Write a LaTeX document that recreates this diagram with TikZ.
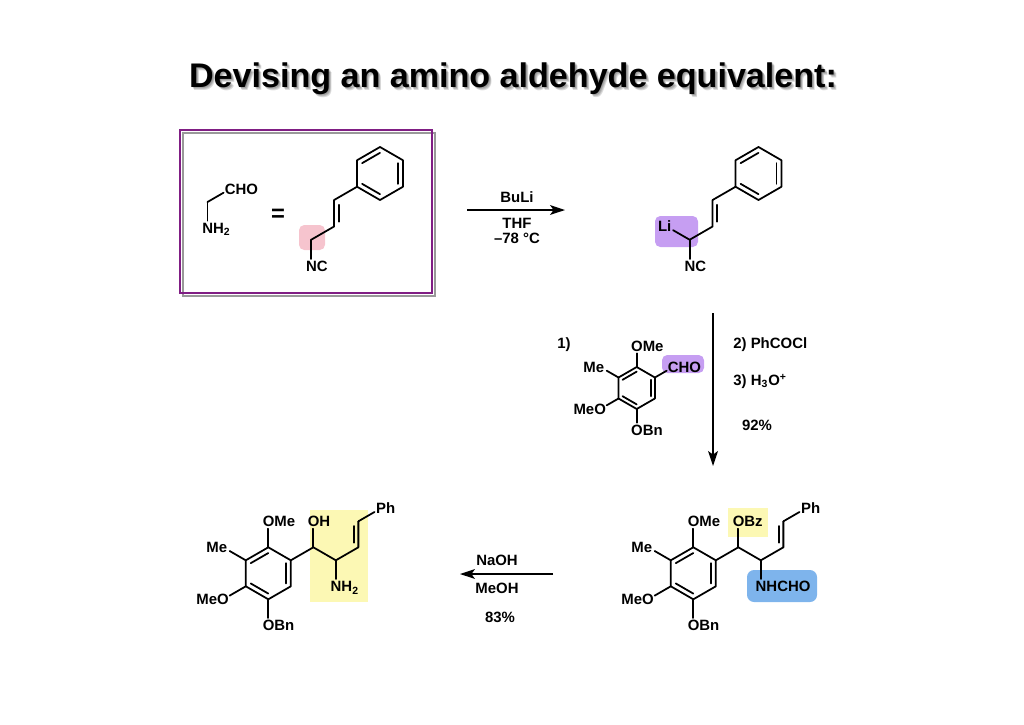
\documentclass[tikz,border=0pt]{standalone}
\usepackage{fontspec}
\setmainfont{Liberation Sans}
\usetikzlibrary{calc}
\usetikzlibrary{arrows.meta}
\usetikzlibrary{backgrounds}
\definecolor{framepurple}{RGB}{128,30,132}
\definecolor{hlpink}{RGB}{246,196,206}
\definecolor{hlpurple}{RGB}{198,158,242}
\definecolor{hlyellow}{RGB}{252,248,180}
\definecolor{hlblue}{RGB}{126,180,236}
\tikzset{
  bond/.style={line width=1pt, line cap=round, line join=round},
  lab/.style={inner sep=0pt, text height=6.1pt, text depth=0pt, font=\fontsize{8.5}{10}\selectfont\bfseries},
  title/.style={inner sep=0pt, anchor=base, font=\fontsize{19.4}{23}\selectfont\bfseries},
  rxn/.style={line width=0.85pt, -{Stealth[length=8.5pt, width=5.6pt, inset=2pt]}},
  tolab/.style={shorten >=4.2pt},
}
% hexagon: name, centre, bond length (pointy top, Kekule)
\newcommand{\benz}[3]{%
  \foreach \i/\a in {1/-90, 2/-30, 3/30, 4/90, 5/150, 6/210}
    \coordinate (#1\i) at ($(#2)+(\a:#3)$);
  \draw[bond] (#11) -- (#12) -- (#13) -- (#14) -- (#15) -- (#16) -- cycle;
  \foreach \p/\q in {6/1, 2/3, 4/5}
    \draw[bond] ($(#2)!.78!(#1\p)$) -- ($(#2)!.78!(#1\q)$);
}
% second line of a double bond, left of #1 -> #2
\newcommand{\dbl}[2]{%
  \draw[bond] ($($(#1)!.18!(#2)$)!2.6pt!90:(#2)$) -- ($($(#1)!.82!(#2)$)!2.6pt!-90:(#1)$);
}

\begin{document}
\begin{tikzpicture}[x=0.02cm, y=-0.02cm]
\useasboundingbox (0,0) rectangle (1024,724);

% title with soft shadow
\foreach \d in {1,...,4}
  \node[title, opacity=.14] (ts\d) at (513+0.7*\d, 87+0.9*\d) {Devising an amino aldehyde equivalent:};
\node[title] (title) at (513,87) {Devising an amino aldehyde equivalent:};

% framed equivalence
\draw[black!40, line width=1.4pt] (183,133) rectangle (435,296);
\draw[framepurple, line width=1.5pt] (180,130) rectangle (432,293);

\coordinate (g1) at (230,189);
\coordinate (g2) at ($(g1)+(150:26)$);
\coordinate (g3) at ($(g2)+(90:26)$);
\node[lab, anchor=west] (cho1) at ($(g1)+(-5.5,0)$) {CHO};
\node[lab, anchor=west] (nh1) at ($(g3)+(-5.5,0)$) {NH\textsubscript{2}};
\draw[bond, tolab] (g2) -- (g1);
\draw[bond, tolab] (g2) -- (g3);
\node[inner sep=0pt, font=\fontsize{13.5}{15}\selectfont\bfseries] (eq) at (278,215) {=};

\benz{p}{380,173.5}{26.5}
\coordinate (c1) at ($(p5)+(150:26.5)$);
\coordinate (c2) at ($(c1)+(90:26.5)$);
\coordinate (c3) at ($(c2)+(150:26.5)$);
\coordinate (c4) at ($(c3)+(90:26.5)$);
\draw[bond] (p5) -- (c1) -- (c2) -- (c3);
\dbl{c1}{c2}
\draw[bond, tolab] (c3) -- (c4);
\node[lab, anchor=west] (nc1) at ($(c4)+(-5.5,0)$) {NC};

% step 1
\coordinate (a1) at (467,210);
\coordinate (a2) at (565,210);
\draw[rxn] (a1) -- (a2);
\node[lab] (buli) at (517,197) {BuLi};
\node[lab] (thf) at (517,223) {THF};
\node[lab] (temp) at (517,238) {–78 °C};

\benz{q}{758.5,173.5}{26.5}
\coordinate (d1) at ($(q5)+(150:26.5)$);
\coordinate (d2) at ($(d1)+(90:26.5)$);
\coordinate (d3) at ($(d2)+(150:26.5)$);
\coordinate (d4) at ($(d3)+(90:26.5)$);
\coordinate (d5) at ($(d3)+(210:26.5)$);
\draw[bond] (q5) -- (d1) -- (d2) -- (d3);
\dbl{d1}{d2}
\draw[bond, tolab] (d3) -- (d4);
\draw[bond, tolab] (d3) -- (d5);
\node[lab, anchor=west] (nc2) at ($(d4)+(-5.5,0)$) {NC};
\node[lab, anchor=east] (li) at ($(d5)+(5,0)$) {Li};

% step 2
\coordinate (v1) at (713,313);
\coordinate (v2) at (713,466);
\draw[rxn] (v1) -- (v2);
\node[lab] (s1) at (564,343) {1)};
\node[lab, anchor=west] (s2) at (733,343) {2) PhCOCl};
\node[lab, anchor=west] (s3) at (733,380) {3) H\textsubscript{3}O\textsuperscript{+}};
\node[lab] (yld1) at (757,425) {92\%};

\benz{r}{636.7,388}{21}
\coordinate (e1) at ($(r1)+(-90:21)$);
\coordinate (e2) at ($(r2)+(-30:21)$);
\coordinate (e3) at ($(r6)+(210:21)$);
\coordinate (e4) at ($(r5)+(150:21)$);
\coordinate (e5) at ($(r4)+(90:21)$);
\foreach \a/\b in {r1/e1, r2/e2, r6/e3, r5/e4, r4/e5}
  \draw[bond, tolab] (\a) -- (\b);
\node[lab, anchor=west] (ome1) at ($(e1)+(-5.9,0)$) {OMe};
\node[lab, anchor=west] (cho2) at ($(e2)+(-5.5,0)$) {CHO};
\node[lab, anchor=east] (me1) at ($(e3)+(4.2,0)$) {Me};
\node[lab, anchor=east] (meo1) at ($(e4)+(5.9,0)$) {MeO};
\node[lab, anchor=west] (obn1) at ($(e5)+(-5.9,0)$) {OBn};

% benzoate
\benz{s}{693.3,573.3}{26}
\coordinate (f1) at ($(s1)+(-90:26)$);
\coordinate (f2) at ($(s6)+(210:26)$);
\coordinate (f3) at ($(s5)+(150:26)$);
\coordinate (f4) at ($(s4)+(90:26)$);
\coordinate (f5) at ($(s2)+(-30:26)$);
\coordinate (f6) at ($(f5)+(-90:26)$);
\coordinate (f7) at ($(f5)+(30:26)$);
\coordinate (f8) at ($(f7)+(90:26)$);
\coordinate (f9) at ($(f7)+(-30:26)$);
\coordinate (f10) at ($(f9)+(-90:26)$);
\coordinate (f11) at ($(f10)+(-30:26)$);
\foreach \a/\b in {s1/f1, s6/f2, s5/f3, s4/f4, f5/f6, f7/f8, f10/f11}
  \draw[bond, tolab] (\a) -- (\b);
\draw[bond] (s2) -- (f5) -- (f7) -- (f9) -- (f10);
\dbl{f9}{f10}
\node[lab, anchor=west] (ome2) at ($(f1)+(-5.9,0)$) {OMe};
\node[lab, anchor=east] (me2) at ($(f2)+(4.2,0)$) {Me};
\node[lab, anchor=east] (meo2) at ($(f3)+(5.9,0)$) {MeO};
\node[lab, anchor=west] (obn2) at ($(f4)+(-5.9,0)$) {OBn};
\node[lab, anchor=west] (obz) at ($(f6)+(-5.9,0)$) {OBz};
\node[lab, anchor=west] (nhcho) at ($(f8)+(-5.5,0)$) {NHCHO};
\node[lab, anchor=west] (ph1) at ($(f11)+(-5,0)$) {Ph};

% step 3
\coordinate (w1) at (553,574);
\coordinate (w2) at (460,574);
\draw[rxn] (w1) -- (w2);
\node[lab] (naoh) at (497,560) {NaOH};
\node[lab] (meoh) at (497,588) {MeOH};
\node[lab] (yld2) at (500,617) {83\%};

% amino alcohol
\benz{t}{268.3,573.3}{26}
\coordinate (h1) at ($(t1)+(-90:26)$);
\coordinate (h2) at ($(t6)+(210:26)$);
\coordinate (h3) at ($(t5)+(150:26)$);
\coordinate (h4) at ($(t4)+(90:26)$);
\coordinate (h5) at ($(t2)+(-30:26)$);
\coordinate (h6) at ($(h5)+(-90:26)$);
\coordinate (h7) at ($(h5)+(30:26)$);
\coordinate (h8) at ($(h7)+(90:26)$);
\coordinate (h9) at ($(h7)+(-30:26)$);
\coordinate (h10) at ($(h9)+(-90:26)$);
\coordinate (h11) at ($(h10)+(-30:26)$);
\foreach \a/\b in {t1/h1, t6/h2, t5/h3, t4/h4, h5/h6, h7/h8, h10/h11}
  \draw[bond, tolab] (\a) -- (\b);
\draw[bond] (t2) -- (h5) -- (h7) -- (h9) -- (h10);
\dbl{h9}{h10}
\node[lab, anchor=west] (ome3) at ($(h1)+(-5.9,0)$) {OMe};
\node[lab, anchor=east] (me3) at ($(h2)+(4.2,0)$) {Me};
\node[lab, anchor=east] (meo3) at ($(h3)+(5.9,0)$) {MeO};
\node[lab, anchor=west] (obn3) at ($(h4)+(-5.9,0)$) {OBn};
\node[lab, anchor=west] (oh) at ($(h6)+(-5.9,0)$) {OH};
\node[lab, anchor=west] (nh2) at ($(h8)+(-5.5,0)$) {NH\textsubscript{2}};
\node[lab, anchor=west] (ph2) at ($(h11)+(-5,0)$) {Ph};

\begin{pgfonlayer}{background}
\fill[hlpink, rounded corners=3pt] (299,225) rectangle (325,250);
\fill[hlpurple, rounded corners=3pt] (655,216) rectangle (698,247);
\fill[hlpurple, rounded corners=3pt] (662,355) rectangle (704,373);
\fill[hlyellow] (728,508) rectangle (768,537);
\fill[hlblue, rounded corners=4pt] (747,570) rectangle (817,602);
\fill[hlyellow] (310,510) rectangle (368,602);
\end{pgfonlayer}
\end{tikzpicture}
\end{document}
